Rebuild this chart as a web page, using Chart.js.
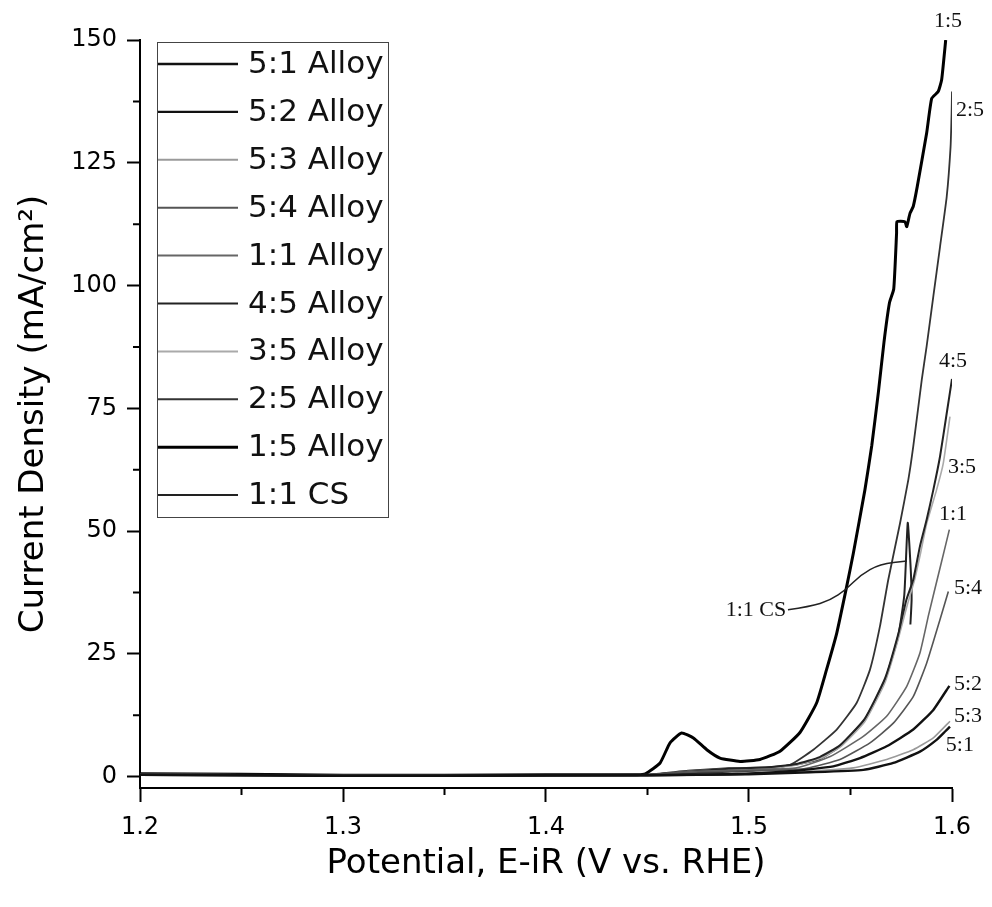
<!DOCTYPE html>
<html>
<head>
<meta charset="utf-8">
<script src="https://cdn.jsdelivr.net/npm/chart.js@4.4.1/dist/chart.umd.min.js"></script>
<style>
  html, body { margin: 0; padding: 0; background: #fff; }
  #wrap { width: 992px; height: 907px; }
</style>
</head>
<body>
<div id="wrap"><canvas id="lsv" width="992" height="907"></canvas></div>
<script>
// tick values
const xTicks = [1.2, 1.3, 1.4, 1.5, 1.6];
const xMinor = [1.25, 1.35, 1.45, 1.55];
const yTicks = [0, 25, 50, 75, 100, 125, 150];
const yMinor = [12.5, 37.5, 62.5, 87.5, 112.5, 137.5];

// series, [potential V, current mA/cm2]
const s51 = [[1.20,0.4],[1.25,0.3],[1.30,0.2],[1.35,0.2],[1.40,0.3],[1.45,0.3],[1.50,0.5],[1.53,0.9],[1.5563,1.4],[1.5711,2.8],[1.5842,5.1],[1.5924,7.5],[1.5966,9.2],[1.599,10.2]];
const s52 = [[1.20,0.4],[1.25,0.3],[1.30,0.2],[1.35,0.2],[1.40,0.3],[1.45,0.3],[1.49,0.5],[1.52,1.1],[1.5415,2.1],[1.5547,3.8],[1.5678,6.2],[1.5809,9.6],[1.5908,13.6],[1.5987,18.5]];
const s53 = [[1.20,0.5],[1.25,0.4],[1.30,0.3],[1.35,0.2],[1.40,0.3],[1.45,0.3],[1.49,0.5],[1.52,0.9],[1.5514,1.8],[1.5678,3.5],[1.5809,5.5],[1.5908,7.9],[1.599,11.3]];
const s54 = [[1.20,0.5],[1.25,0.4],[1.30,0.3],[1.35,0.3],[1.40,0.3],[1.45,0.4],[1.475,1.0],[1.50,1.2],[1.52,1.4],[1.5284,1.7],[1.5448,3.5],[1.5596,6.9],[1.5711,10.9],[1.5809,16.3],[1.5875,23.1],[1.5941,32],[1.5982,37.7]];
const s11 = [[1.20,0.5],[1.25,0.4],[1.30,0.3],[1.35,0.3],[1.40,0.3],[1.45,0.4],[1.475,1.1],[1.50,1.4],[1.5235,1.8],[1.54,4.1],[1.5563,8.2],[1.5678,12.3],[1.5777,18.4],[1.5842,25.2],[1.5885,33],[1.5941,42.5],[1.5987,50.3]];
const s45 = [[1.20,0.5],[1.25,0.4],[1.30,0.3],[1.35,0.3],[1.40,0.3],[1.45,0.4],[1.47,1.0],[1.49,1.6],[1.51,1.9],[1.5235,2.6],[1.5348,4.0],[1.5448,6.4],[1.557,11.8],[1.567,20],[1.5735,29],[1.5775,36],[1.5809,40.1],[1.5842,46.9],[1.5875,52.3],[1.5908,58.4],[1.5941,65.2],[1.5974,74],[1.6,81]];
const s35 = [[1.20,0.4],[1.25,0.4],[1.30,0.3],[1.35,0.3],[1.40,0.3],[1.45,0.4],[1.47,1.1],[1.49,1.6],[1.51,1.8],[1.5235,2.4],[1.535,3.7],[1.5448,6.0],[1.557,11.2],[1.567,19.2],[1.5735,28],[1.578,35],[1.5815,40],[1.5845,45.5],[1.5875,51.5],[1.5924,58.4],[1.5957,63.8],[1.599,73.3]];
const s25 = [[1.20,0.5],[1.25,0.4],[1.30,0.3],[1.35,0.3],[1.40,0.3],[1.45,0.4],[1.47,0.7],[1.49,1.0],[1.505,1.3],[1.5202,2.4],[1.5317,5.5],[1.5432,9.6],[1.553,15.0],[1.5596,21.8],[1.5645,30.6],[1.5686,40.1],[1.5744,51.6],[1.5785,60.5],[1.5809,67.2],[1.5851,80.8],[1.5875,87.6],[1.5908,97.8],[1.5941,107.9],[1.5974,118.1],[1.5993,128.3],[1.5998,135],[1.6,139.5]];
const s15 = [[1.20,0.6],[1.25,0.5],[1.30,0.3],[1.35,0.3],[1.40,0.4],[1.445,0.4],[1.449,0.6],[1.4562,2.8],[1.4611,6.9],[1.4668,8.9],[1.4726,7.9],[1.4792,5.5],[1.4857,3.8],[1.4956,3.1],[1.5054,3.5],[1.5153,5.2],[1.5251,9.0],[1.5333,15],[1.5382,21.8],[1.5432,29.2],[1.5481,38.7],[1.5514,45.5],[1.5571,58.4],[1.5605,67.5],[1.5638,78.5],[1.5665,88.5],[1.5692,96.5],[1.5713,99.3],[1.5727,110.7],[1.5729,113],[1.5768,113],[1.5777,112],[1.5793,114.7],[1.5809,116.1],[1.5829,120.2],[1.5875,131.0],[1.59,138.1],[1.5932,139.5],[1.5949,141.9],[1.5969,150.0]];
const s11cs = [[1.20,0.5],[1.25,0.4],[1.30,0.3],[1.35,0.3],[1.40,0.3],[1.45,0.4],[1.47,1.2],[1.49,1.7],[1.51,1.9],[1.5235,2.5],[1.535,3.6],[1.5448,6.2],[1.557,11.6],[1.567,19.7],[1.5735,28.6],[1.5765,37],[1.5782,51.7],[1.5797,42],[1.5801,36],[1.5795,31]];

const seriesNames = ['5:1 Alloy', '5:2 Alloy', '5:3 Alloy', '5:4 Alloy', '1:1 Alloy', '4:5 Alloy', '3:5 Alloy', '2:5 Alloy', '1:5 Alloy', '1:1 CS'];
const seriesData = [s51, s52, s53, s54, s11, s45, s35, s25, s15, s11cs];

// curve end labels: [text, potential, current]
const curveLabels = [
  ['1:5', 1.598, 153.9], ['2:5', 1.6089, 135.8], ['4:5', 1.6005, 84.5],
  ['3:5', 1.6049, 63.1], ['1:1', 1.6005, 53.5], ['5:4', 1.6079, 38.3],
  ['5:2', 1.6079, 18.9], ['5:3', 1.6079, 12.4], ['5:1', 1.6039, 6.5],
  ['1:1 CS', 1.5034, 33.8]
];
const csLeader = [[1.5192,34.0],[1.5300,34.6],[1.5400,35.9],[1.5478,38.1],[1.5547,41.0],[1.5645,43.3],[1.5778,43.9]];

const lineColors = ['#111', '#111', '#9a9a9a', '#555', '#666', '#222', '#aaa', '#333', '#000', '#222'];
const lineWidths = [2.4, 2.4, 1.6, 1.6, 1.6, 2, 1.6, 1.8, 3, 2];

Chart.defaults.font.family = "'DejaVu Sans', sans-serif";
Chart.defaults.color = '#000';

const datasets = seriesData.map((pts, i) => ({
  label: seriesNames[i],
  data: pts.map(p => ({ x: p[0], y: p[1] })),
  borderColor: lineColors[i],
  borderWidth: lineWidths[i],
  pointRadius: 0,
  tension: 0.15,
  fill: false
}));

const minorTicks = {
  id: 'minorTicks',
  afterDraw(chart) {
    const { ctx, chartArea: a, scales: { x, y } } = chart;
    ctx.save();
    ctx.strokeStyle = '#000';
    ctx.lineWidth = 2;
    ctx.beginPath();
    xMinor.forEach(v => { const px = x.getPixelForValue(v); ctx.moveTo(px, a.bottom); ctx.lineTo(px, a.bottom + 7); });
    yMinor.forEach(v => { const py = y.getPixelForValue(v); ctx.moveTo(a.left, py); ctx.lineTo(a.left - 7, py); });
    ctx.stroke();
    ctx.restore();
  }
};

const boxLegend = {
  id: 'boxLegend',
  afterDraw(chart) {
    const ctx = chart.ctx;
    const left = 157, top = 42, w = 231, rowH = 47.9, first = 64;
    ctx.save();
    ctx.fillStyle = '#fff';
    ctx.fillRect(left, top, w, rowH * seriesNames.length);
    ctx.strokeStyle = '#444';
    ctx.lineWidth = 1;
    ctx.strokeRect(left + 0.5, top + 0.5, w, rowH * seriesNames.length - 4);
    ctx.font = "31px 'DejaVu Sans'";
    ctx.textBaseline = 'middle';
    ctx.fillStyle = '#111';
    chart.data.datasets.forEach((ds, i) => {
      const cy = first + i * rowH;
      ctx.strokeStyle = ds.borderColor;
      ctx.lineWidth = Math.max(ds.borderWidth, 2);
      ctx.beginPath();
      ctx.moveTo(left + 1, cy);
      ctx.lineTo(left + 81, cy);
      ctx.stroke();
      ctx.fillText(ds.label, left + 91, cy + 1);
    });
    ctx.restore();
  }
};

const endLabels = {
  id: 'endLabels',
  afterDraw(chart) {
    const { ctx, scales: { x, y } } = chart;
    ctx.save();
    ctx.font = "22px 'Liberation Serif'";
    ctx.fillStyle = '#111';
    ctx.textAlign = 'center';
    ctx.textBaseline = 'middle';
    curveLabels.forEach(([t, vx, vy]) => ctx.fillText(t, x.getPixelForValue(vx), y.getPixelForValue(vy)));
    // smooth leader line to the 1:1 CS curve
    const p = csLeader.map(([vx, vy]) => [x.getPixelForValue(vx), y.getPixelForValue(vy)]);
    ctx.strokeStyle = '#222';
    ctx.lineWidth = 1.5;
    ctx.beginPath();
    ctx.moveTo(p[0][0], p[0][1]);
    for (let i = 1; i < p.length - 1; i++) {
      const mx = (p[i][0] + p[i + 1][0]) / 2, my = (p[i][1] + p[i + 1][1]) / 2;
      ctx.quadraticCurveTo(p[i][0], p[i][1], mx, my);
    }
    ctx.lineTo(p[p.length - 1][0], p[p.length - 1][1]);
    ctx.stroke();
    ctx.restore();
  }
};

new Chart(document.getElementById('lsv'), {
  type: 'line',
  data: { datasets },
  options: {
    responsive: false,
    animation: false,
    devicePixelRatio: 1,
    layout: { padding: { top: 40, right: 40, left: 0, bottom: 0 } },
    plugins: { legend: { display: false }, tooltip: { enabled: false } },
    scales: {
      x: {
        type: 'linear',
        min: 1.2,
        max: 1.6,
        afterBuildTicks: s => { s.ticks = xTicks.map(v => ({ value: v })); },
        afterFit: s => { s.height = 119; },
        ticks: { font: { size: 24 }, padding: 11, callback: v => v.toFixed(1), maxRotation: 0 },
        grid: { drawOnChartArea: false, drawTicks: true, tickLength: 14, tickColor: '#000', tickWidth: 2 },
        border: { display: true, color: '#000', width: 2 },
        title: { display: true, text: 'Potential, E-iR (V vs. RHE)', font: { size: 34 }, padding: { top: 0, bottom: 22 } }
      },
      y: {
        min: -2.3,
        max: 150,
        afterBuildTicks: s => { s.ticks = yTicks.map(v => ({ value: v })); },
        afterFit: s => { s.width = 140; },
        ticks: { font: { size: 24 }, padding: 10 },
        grid: { drawOnChartArea: false, drawTicks: true, tickLength: 13, tickColor: '#000', tickWidth: 2 },
        border: { display: true, color: '#000', width: 2 },
        title: { display: true, text: 'Current Density (mA/cm²)', font: { size: 34 }, padding: { top: 14, bottom: 0 } }
      }
    }
  },
  plugins: [minorTicks, boxLegend, endLabels]
});
</script>
</body>
</html>
